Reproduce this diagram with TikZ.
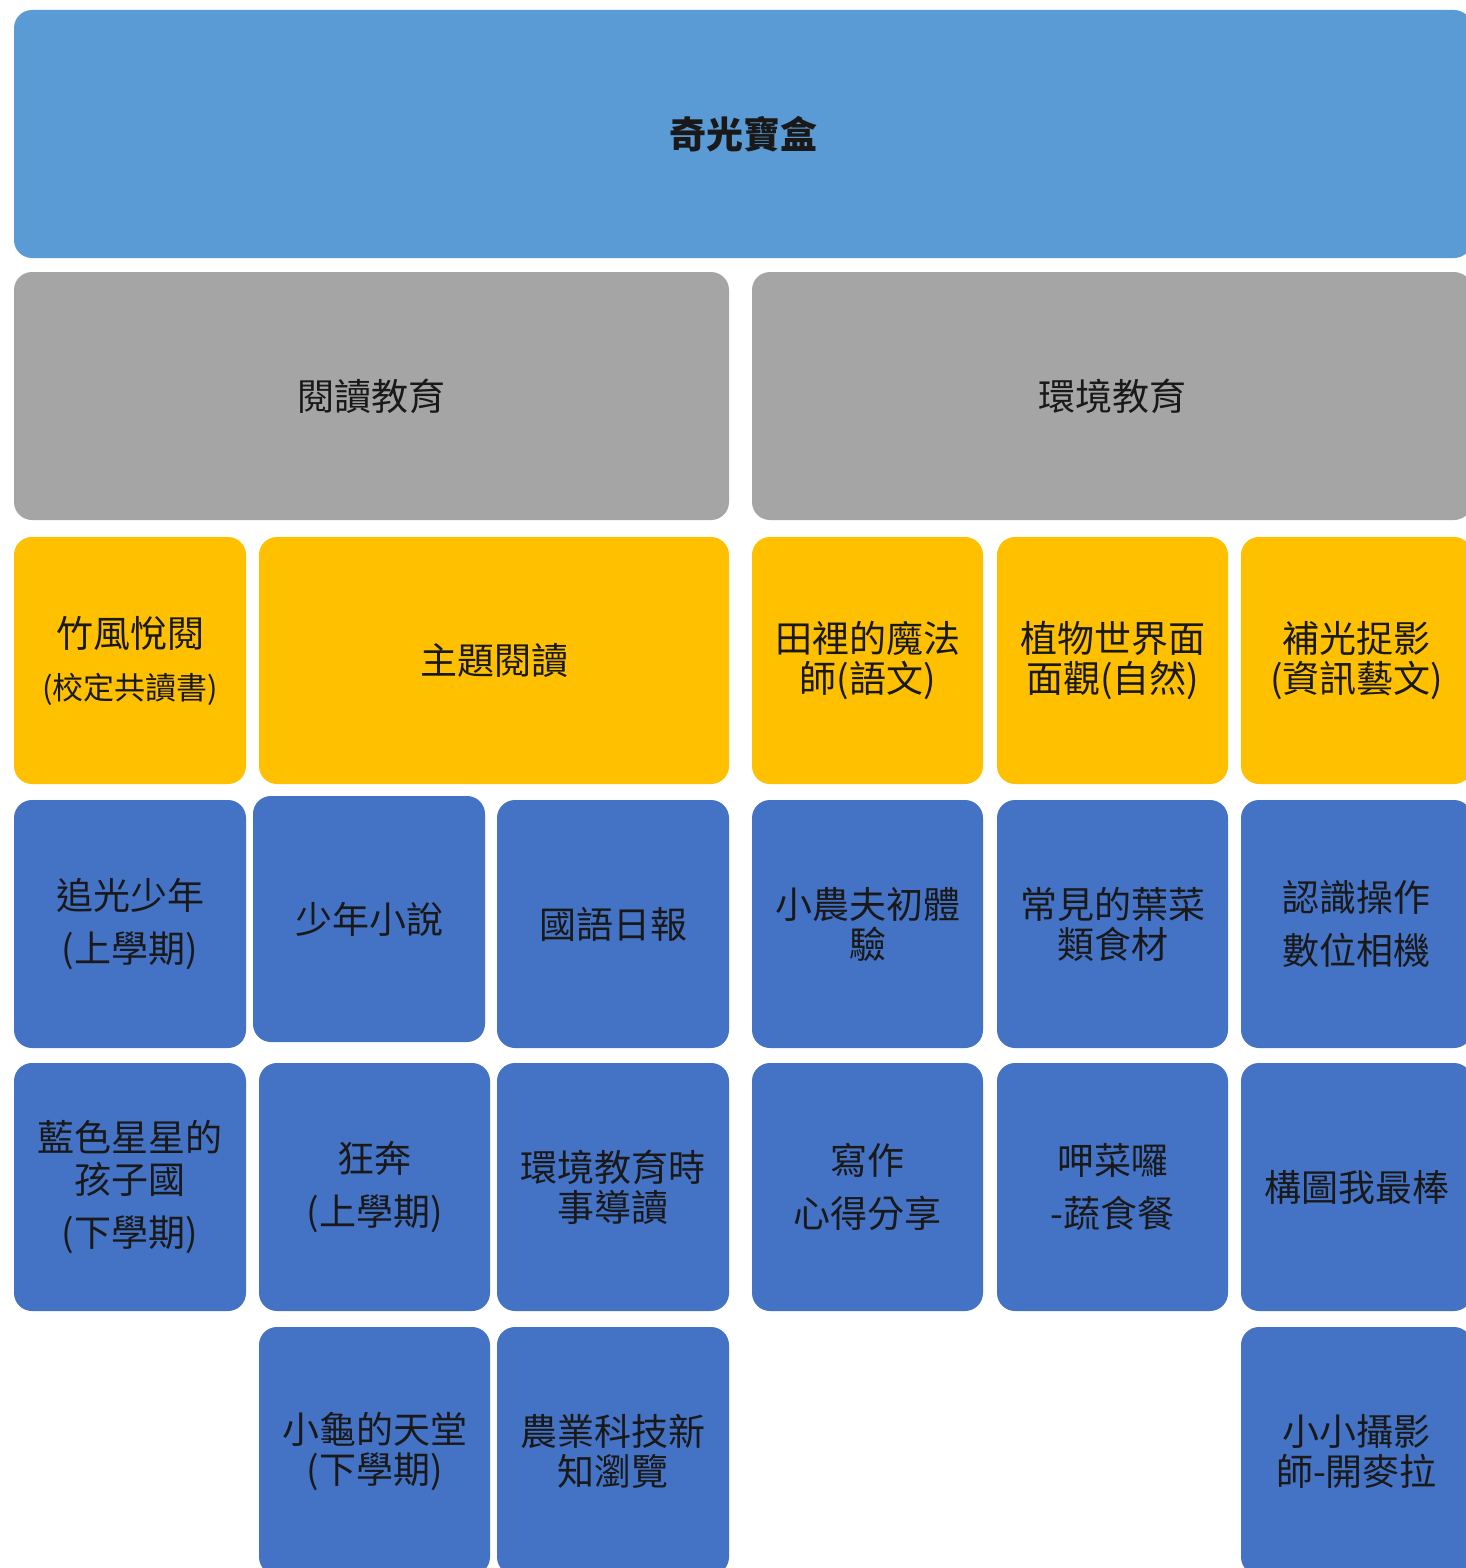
\documentclass[tikz,border=0pt]{standalone}
\usepackage{fontspec}
\newfontfamily\cjk{Noto Sans CJK TC}
\usetikzlibrary{fit}
\definecolor{topblue}{HTML}{5B9BD5}
\definecolor{midgray}{HTML}{A5A5A5}
\definecolor{gold}{HTML}{FFC000}
\definecolor{leafblue}{HTML}{4472C4}
\begin{document}
\begin{tikzpicture}[x=0.5pt,y=-0.5pt,
  card/.style={inner sep=0pt, rounded corners=9pt},
  lab/.style={align=center, text=black!90, inner sep=0pt,
    font=\cjk\fontsize{18.5}{20}\selectfont},
  toplab/.style={lab, font=\cjk\bfseries\fontsize{18.5}{20}\selectfont},
  topcard/.style={card, fill=topblue},
  graycard/.style={card, fill=midgray},
  goldcard/.style={card, fill=gold},
  leafcard/.style={card, fill=leafblue}]
\useasboundingbox (0,0) rectangle (1466,1568);
\clip (0,0) rectangle (1466,1568);
\fill[white] (0,0) rectangle (1466,1568);
% level 1
\node[topcard, fit={(14,10) (1472,258)}, label={[toplab]center:{奇光寶盒}}] (root) {};
% level 2
\node[graycard, fit={(14,272) (729,520)}, label={[lab]center:{閱讀教育}}] (read) {};
\node[graycard, fit={(752,272) (1472,520)}, label={[lab]center:{環境教育}}] (env) {};
% level 3
\node[goldcard, fit={(14,537) (246,784)}, label={[lab]center:{竹風悅閱\\[6pt]{\fontsize{15.5}{18}\selectfont(校定共讀書)}}}] (g1) {};
\node[goldcard, fit={(259,537) (729,784)}, label={[lab]center:{主題閱讀}}] (g2) {};
\node[goldcard, fit={(752,537) (983,784)}, label={[lab]center:{田裡的魔法\\師(語文)}}] (g3) {};
\node[goldcard, fit={(997,537) (1228,784)}, label={[lab]center:{植物世界面\\面觀(自然)}}] (g4) {};
\node[goldcard, fit={(1241,537) (1472,784)}, label={[lab]center:{補光捉影\\(資訊藝文)}}] (g5) {};
% level 4
\node[leafcard, fit={(14,800) (246,1048)}, label={[lab]center:{追光少年\\[6.5pt](上學期)}}] (b1) {};
\node[leafcard, fit={(253,796) (485,1042)}, label={[lab]center:{少年小說}}] (b2) {};
\node[leafcard, fit={(497,800) (729,1048)}, label={[lab]center:{國語日報}}] (b3) {};
\node[leafcard, fit={(752,800) (983,1048)}, label={[lab]center:{小農夫初體\\驗}}] (b4) {};
\node[leafcard, fit={(997,800) (1228,1048)}, label={[lab]center:{常見的葉菜\\類食材}}] (b5) {};
\node[leafcard, fit={(1241,800) (1472,1048)}, label={[lab]center:{認識操作\\[6.5pt]數位相機}}] (b6) {};
% level 5
\node[leafcard, fit={(14,1063) (246,1311)}, label={[lab]center:{藍色星星的\\[1pt]孩子國\\[6.5pt](下學期)}}] (c1) {};
\node[leafcard, fit={(259,1063) (490,1311)}, label={[lab]center:{狂奔\\[6.5pt](上學期)}}] (c2) {};
\node[leafcard, fit={(497,1063) (729,1311)}, label={[lab]center:{環境教育時\\事導讀}}] (c3) {};
\node[leafcard, fit={(752,1063) (983,1311)}, label={[lab]center:{寫作\\[6.5pt]心得分享}}] (c4) {};
\node[leafcard, fit={(997,1063) (1228,1311)}, label={[lab]center:{呷菜囉\\[6.5pt]-蔬食餐}}] (c5) {};
\node[leafcard, fit={(1241,1063) (1472,1311)}, label={[lab]center:{構圖我最棒}}] (c6) {};
% level 6
\node[leafcard, fit={(259,1327) (490,1575)}, label={[lab]center:{小龜的天堂\\(下學期)}}] (d1) {};
\node[leafcard, fit={(497,1327) (729,1575)}, label={[lab]center:{農業科技新\\知瀏覽}}] (d2) {};
\node[leafcard, fit={(1241,1327) (1472,1575)}, label={[lab]center:{小小攝影\\師-開麥拉}}] (d3) {};
\end{tikzpicture}
\end{document}
